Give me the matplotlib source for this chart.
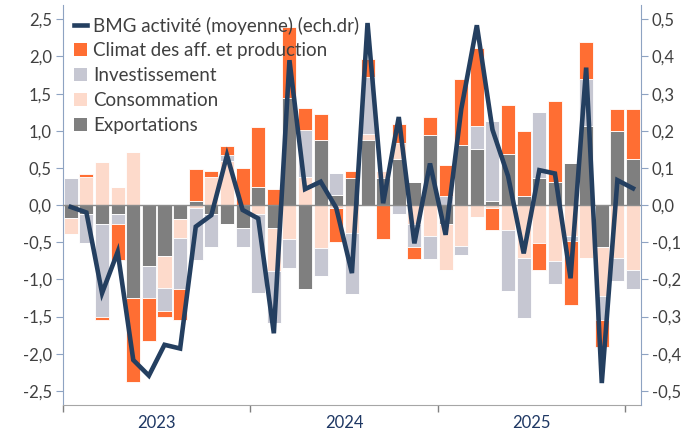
import matplotlib
matplotlib.use('Agg')
import matplotlib.pyplot as plt
import matplotlib.ticker as ticker
from matplotlib.lines import Line2D
from matplotlib.patches import Patch
import numpy as np

plt.rcParams['font.family'] = ['Lato', 'DejaVu Sans']

# Contributions mensuelles (jan. 2023 -> jan. 2026), échelle de gauche
exportations = [-0.18, -0.12, -0.25, -0.125, -1.25, -0.815, -0.68, -0.19, 0.06, -0.12,
                -0.255, -0.31, 0.25, -0.31, 1.44, -1.13, 0.88, 0.13, 0.37, 0.87,
                0.37, 0.62, 0.31, 0.94, -0.25, 0.815, 0.75, 0.06, 0.69, 0.12,
                0.37, 0.31, 0.57, 1.07, -0.56, 1.00, 0.62]
consommation = [-0.21, 0.38, 0.58, 0.25, 0.71, 0.0, -0.43, -0.25, -0.045, 0.38,
                0.60, 0.0, -0.125, -0.58, -0.46, 0.38, -0.58, -0.035, -0.38, 0.09,
                0.085, 0.22, -0.26, -0.42, -0.63, -0.55, -0.16, -0.04, -0.34, -0.71,
                -0.51, -0.75, -0.41, -0.71, -0.67, -0.71, -0.88]
investissement = [0.37, -0.385, -1.26, -0.13, 0.0, -0.44, -0.31, -0.69, -0.69, -0.44,
                  0.08, -0.25, -1.06, -0.69, -0.38, 0.63, -0.38, 0.30, -0.81, 0.76,
                  0.0, -0.12, -0.31, -0.31, 0.12, -0.12, 0.31, 1.07, -0.815, -0.815,
                  0.88, -0.31, -0.07, 0.63, -0.32, -0.31, -0.245]
climat = [0.0, 0.04, -0.04, -0.49, -1.13, -0.58, -0.08, -0.42, 0.42, 0.085,
          0.11, 0.50, 0.80, 0.21, 0.955, 0.29, 0.34, -0.465, 0.085, 0.24,
          -0.46, 0.245, -0.16, 0.25, 0.42, 0.88, 1.05, -0.30, 0.66, 0.88,
          -0.37, 1.085, -0.87, 0.50, -0.36, 0.29, 0.67]
# BMG activité (moyenne), échelle de droite
bmg = [-0.005, -0.02, -0.237, -0.126, -0.417, -0.459, -0.376, -0.386, -0.058, -0.027,
       0.134, -0.013, -0.036, -0.345, 0.39, 0.043, 0.063, -0.008, -0.183, 0.49,
       0.005, 0.237, -0.103, 0.112, -0.08, 0.258, 0.484, 0.203, 0.078, -0.13,
       0.094, 0.085, -0.197, 0.37, -0.479, 0.067, 0.045]
annees = ['2023', '2024', '2025']

c_climat = '#FF6E33'
c_inv = '#C6C7D2'
c_cons = '#FDDACB'
c_exp = '#7F7F7F'
c_bmg = '#243F60'
c_axe = '#8EA3C2'
c_txt = '#404040'


def fmt_virgule(x, pos):
    return f"{x:.1f}".replace('.', ',')


fig = plt.figure(figsize=(6.97, 4.33), dpi=100)
ax = fig.add_axes([0.0904, 0.0647, 0.829, 0.9233])
x = np.arange(len(bmg))

# Barres empilées : positifs vers le haut, négatifs vers le bas
bas_pos = np.zeros(len(x))
bas_neg = np.zeros(len(x))
for vals, col in [(exportations, c_exp), (consommation, c_cons),
                  (investissement, c_inv), (climat, c_climat)]:
    v = np.array(vals)
    pos = np.where(v > 0, v, 0)
    neg = np.where(v < 0, v, 0)
    ax.bar(x, pos, bottom=bas_pos, width=0.9, color=col, edgecolor='white', linewidth=0.6, zorder=2)
    ax.bar(x, neg, bottom=bas_neg, width=0.9, color=col, edgecolor='white', linewidth=0.6, zorder=2)
    bas_pos += pos
    bas_neg += neg

ax.axhline(0, color='#8C8C8C', linewidth=1.0, zorder=3)

ax.set_xlim(-0.5, len(x) - 0.5)
ax.set_ylim(-2.69, 2.69)
ax.yaxis.set_major_locator(ticker.MultipleLocator(0.5))
ax.yaxis.set_major_formatter(ticker.FuncFormatter(fmt_virgule))

ax.set_xticks([-0.5, 11.5, 23.5, 35.5])
ax.set_xticklabels([])
ax.set_xticks([5.5, 17.5, 29.5], minor=True)
ax.set_xticklabels(annees, minor=True)
ax.tick_params(axis='x', which='major', length=5, color='#808080', width=1)
ax.tick_params(axis='x', which='minor', length=0, labelsize=12, labelcolor='#1F3864', pad=7)
ax.tick_params(axis='y', length=5, color=c_axe, labelsize=12, labelcolor=c_txt, pad=3)

for s in ['top', 'right']:
    ax.spines[s].set_visible(False)
ax.spines['left'].set_color(c_axe)
ax.spines['bottom'].set_color('#A6A6A6')

ax2 = ax.twinx()
ax2.plot(x, bmg, color=c_bmg, linewidth=3.3, solid_joinstyle='miter', zorder=5)
ax2.set_ylim(-0.538, 0.538)
ax2.yaxis.set_major_locator(ticker.MultipleLocator(0.1))
ax2.yaxis.set_major_formatter(ticker.FuncFormatter(fmt_virgule))
ax2.tick_params(axis='y', length=5, color=c_axe, labelsize=12, labelcolor=c_txt, pad=3)
for s in ['top', 'left', 'bottom']:
    ax2.spines[s].set_visible(False)
ax2.spines['right'].set_color(c_axe)

handles = [
    Line2D([0], [0], color=c_bmg, linewidth=3.3),
    Patch(facecolor=c_climat),
    Patch(facecolor=c_inv),
    Patch(facecolor=c_cons),
    Patch(facecolor=c_exp),
]
labels = ['BMG activité (moyenne) (ech.dr)', 'Climat des aff. et production',
          'Investissement', 'Consommation', 'Exportations']
leg = ax2.legend(handles, labels, loc='upper left', bbox_to_anchor=(0.0, 1.0),
                 frameon=False, fontsize=13.5, labelcolor=c_txt, handlelength=0.7,
                 handleheight=0.7, handletextpad=0.3, labelspacing=0.42,
                 borderaxespad=0.2)

plt.savefig('out.png', dpi=100)
